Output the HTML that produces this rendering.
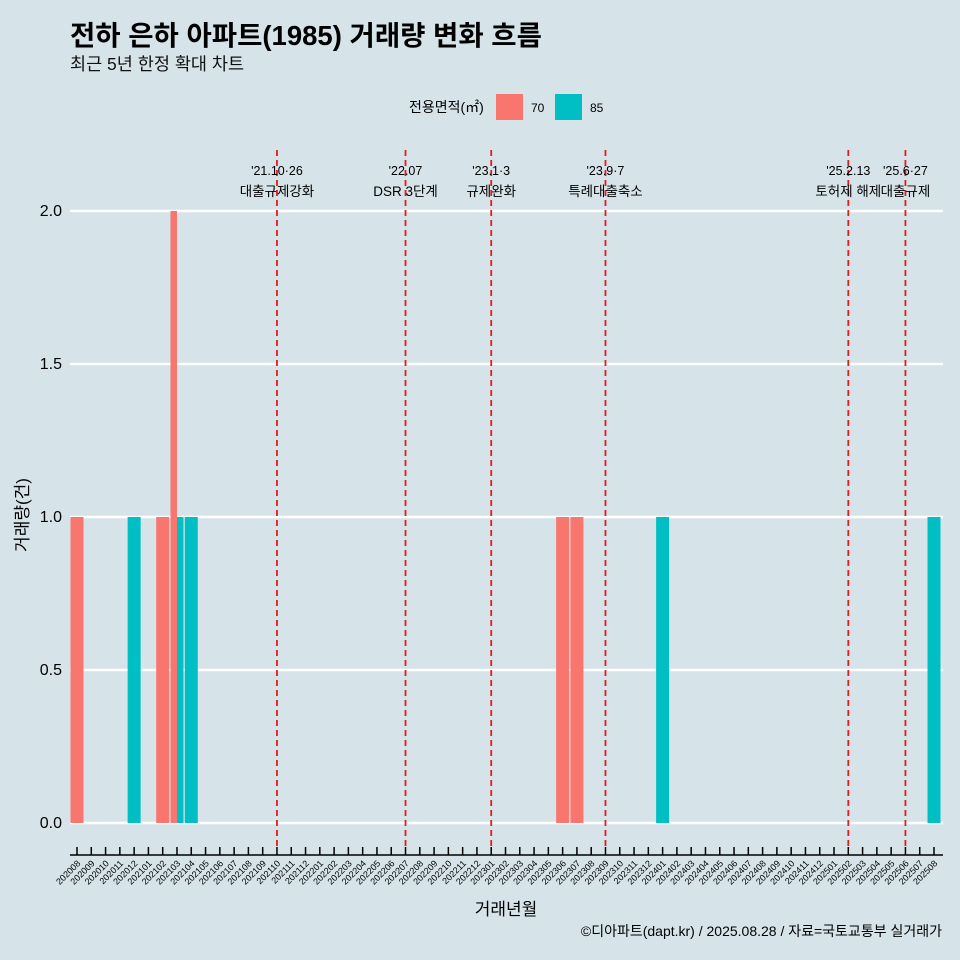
<!DOCTYPE html>
<html><head><meta charset="utf-8"><style>
body{margin:0;background:#d6e4ea;}
svg{display:block;font-family:"Liberation Sans","Noto Sans CJK KR",sans-serif;}
</style></head><body>
<svg id="c" width="960" height="960">
<rect width="960" height="960" fill="#d6e4ea"/>
<text x="70" y="45" font-size="27.5" font-weight="bold" fill="#000">전하 은하 아파트(1985) 거래량 변화 흐름</text>
<text x="70" y="70" font-size="17.5" fill="#111">최근 5년 한정 확대 차트</text>
<g>
<text x="409" y="112" font-size="14">전용면적(㎡)</text>
<rect x="496" y="94" width="27" height="26" fill="#f8766d"/>
<text x="531" y="112" font-size="12">70</text>
<rect x="555" y="94" width="27" height="26" fill="#00bfc4"/>
<text x="590" y="112" font-size="12">85</text>
</g>
<g id="grid"></g><g id="bars"></g><g id="events"></g><g id="axes"></g>
<text x="28" y="515" font-size="17" text-anchor="middle" transform="rotate(-90 28 515)">거래량(건)</text>
<text x="506" y="915" font-size="17" text-anchor="middle">거래년월</text>
<text x="942" y="936" font-size="14" text-anchor="end">©디아파트(dapt.kr) / 2025.08.28 / 자료=국토교통부 실거래가</text>
</svg>
<script>
const months=[];for(let y=2020,m=8;!(y===2025&&m===9);){months.push(''+y+(m<10?'0':'')+m);m++;if(m>12){m=1;y++;}}
const series70=[["202008",1],["202102",1],["202103",2],["202306",1],["202307",1]];
const series85=[["202012",1],["202103",1],["202104",1],["202401",1],["202508",1]];
const yTicks=[0,0.5,1,1.5,2];
const yTickLabels=["0.0","0.5","1.0","1.5","2.0"];
const events=[["202110","'21.10·26","대출규제강화",0],["202207","'22.07","DSR 3단계",0],["202301","'23.1·3","규제완화",0],["202309","'23.9·7","특례대출축소",0],["202502","'25.2.13","토허제 해제",1],["202506","'25.6·27","대출규제",0]];
const NS="http://www.w3.org/2000/svg";
const x=m=>77+months.indexOf(m)*(934-77)/(months.length-1);
const y=v=>823-v*306;
const bw=13;
function mk(t,a,p){const e=document.createElementNS(NS,t);for(const k in a)e.setAttribute(k,a[k]);document.getElementById(p).appendChild(e);return e;}
yTicks.forEach((v,i)=>{const l=mk('line',{x1:70,x2:943,y1:y(v),y2:y(v),stroke:'#fff','stroke-width':2.5},'grid');


const t=mk('text',{x:62,y:y(v)+5,'font-size':16,'text-anchor':'end'},'axes');t.textContent=yTickLabels[i];

});
function has(s,m){return s.some(d=>d[0]===m);}
function drawBar(d,col,other,side,name){let cx=x(d[0]),w=bw,left=cx-bw/2;
if(has(other,d[0])){w=bw/2;left=side?cx:cx-bw/2;}
const r=mk('rect',{x:left,y:y(d[1]),width:w,height:y(0)-y(d[1]),fill:col},'bars');

}
series70.forEach(d=>drawBar(d,'#f8766d',series85,0,'bar-70-'+d[0]));
series85.forEach(d=>drawBar(d,'#00bfc4',series70,1,'bar-85-'+d[0]));
events.forEach(e=>{const ex=x(e[0]);
const l=mk('line',{x1:ex,x2:ex,y1:150,y2:850,stroke:e[4]?'#f04040':'#e8191a','stroke-width':e[4]?1.2:1.8,'stroke-dasharray':'6,4'},'events');


const fs=e[4]?11:12.5;
const t1=mk('text',{x:ex,y:e[4]?177:175,'font-size':fs,'text-anchor':'middle'},'events');t1.textContent=e[1];


const t2=mk('text',{x:ex,y:e[4]?193:196,'font-size':fs+1,'text-anchor':'middle'},'events');t2.textContent=e[2];

});
const ax=mk('line',{x1:70,x2:943,y1:855,y2:855,stroke:'#000','stroke-width':1.5},'axes');


months.forEach(m=>{const mx=x(m);
const tk=mk('line',{x1:mx,x2:mx,y1:847,y2:855,stroke:'#000','stroke-width':1.5},'axes');


const t=mk('text',{x:mx+4,y:864,'font-size':9,'text-anchor':'end',transform:`rotate(-45 ${mx+4} 864)`},'axes');t.textContent=m;

});
</script>
</body></html>
